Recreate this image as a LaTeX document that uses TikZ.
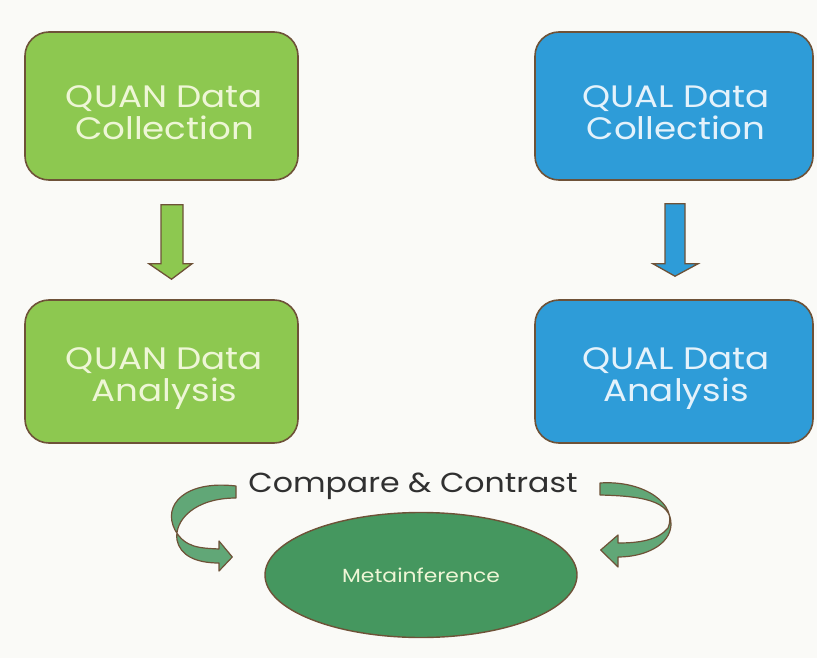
\documentclass[tikz,border=0pt]{standalone}
\usepackage{fontspec}
\setmainfont{Poppins}
\newfontfamily\widefont[FakeStretch=1.15]{Poppins}
\usetikzlibrary{shapes.geometric,calc}
\definecolor{bg}{HTML}{FAFAF7}
\definecolor{quangreen}{HTML}{8DC850}
\definecolor{qualblue}{HTML}{2E9CD8}
\definecolor{metagreen}{HTML}{45975F}
\definecolor{rim}{HTML}{6E5238}
\definecolor{greentext}{HTML}{EEF6D6}
\definecolor{bluetext}{HTML}{E4F2FB}
\definecolor{captext}{HTML}{303030}
\tikzset{
  box/.style={draw=rim, line width=1.6pt, rounded corners=24pt, inner sep=0pt},
  boxtext/.style={align=center, inner sep=0pt, font=\widefont\fontsize{31}{32}\selectfont},
  quanbox/.style={box, fill=quangreen},
  qualbox/.style={box, fill=qualblue},
  blockarrow/.style={draw=rim, line width=1.3pt, line join=miter},
  ribbon/.style={draw=rim, line width=1.2pt, fill=metagreen!85!white, line join=round},
}
\begin{document}
\begin{tikzpicture}[x=1pt,y=-1pt]
\fill[bg] (0,0) rectangle (817,658);
\useasboundingbox (0,0) rectangle (817,658);

\node[quanbox, minimum width=273pt, minimum height=148pt] (qc) at (161.5,106) {};
\node[qualbox, minimum width=278pt, minimum height=148pt] (lc) at (674,106) {};
\node[quanbox, minimum width=273pt, minimum height=143pt] (qa) at (161.5,371.5) {};
\node[qualbox, minimum width=278pt, minimum height=143pt] (la) at (674,371.5) {};
\node[boxtext, text=greentext] (qct) at ($(qc.center)+(3,7)$) {QUAN Data\\Collection};
\node[boxtext, text=bluetext] (lct) at ($(lc.center)+(2,7)$) {QUAL Data\\Collection};
\node[boxtext, text=greentext] (qat) at ($(qa.center)+(3,7)$) {QUAN Data\\Analysis};
\node[boxtext, text=bluetext] (lat) at ($(la.center)+(2,7)$) {QUAL Data\\Analysis};

% block arrows between collection and analysis
\draw[blockarrow, fill=quangreen]
  ($(qc.south)+(-0.5,24)$) -- ($(qc.south)+(21.5,24)$) -- ($(qc.south)+(21.5,83)$)
  -- ($(qc.south)+(30.5,83)$) -- ($(qa.north)+(10,-20)$) -- ($(qc.south)+(-12.5,83)$)
  -- ($(qc.south)+(-0.5,83)$) -- cycle;
\draw[blockarrow, fill=qualblue]
  ($(lc.south)+(-9,23)$) -- ($(lc.south)+(11,23)$) -- ($(lc.south)+(11,83)$)
  -- ($(lc.south)+(24,83)$) -- ($(la.north)+(1,-23)$) -- ($(lc.south)+(-21,83)$)
  -- ($(lc.south)+(-9,83)$) -- cycle;

% compare & contrast
\node[font=\widefont\fontsize{27.5}{30}\selectfont, text=captext, inner sep=0pt] (cc) at (413,486) {Compare \& Contrast};
\node[ellipse, draw=rim, line width=1.4pt, fill=metagreen, text=greentext,
      minimum width=312pt, minimum height=125pt, inner sep=0pt,
      font=\widefont\fontsize{19}{21}\selectfont] (meta) at (421,575) {Metainference};

\coordinate (ls) at (236,492);
\coordinate (rs) at (600,489);

% left curved ribbon arrow
\draw[ribbon]
  ($(ls)+(0,-6)$) .. controls (185,480) and (162,505) .. (175,530)
  .. controls (185,548) and (200,548) .. (219,549)
  -- (219,541) -- ($(meta.west)+(-32,-18)$) -- (219,571)
  -- (219,563)
  .. controls (195,563) and (180,555) .. (177,540)
  .. controls (174,520) and (195,498) .. ($(ls)+(0,6)$) -- cycle;
% right curved ribbon arrow
\draw[ribbon]
  ($(rs)+(0,-6)$) .. controls (645,480) and (678,505) .. (668,528)
  .. controls (658,540) and (640,543) .. (618,543)
  -- (618,535) -- ($(meta.east)+(23,-25)$) -- (618,567)
  -- (618,557)
  .. controls (645,557) and (670,545) .. (671,525)
  .. controls (672,500) and (640,496) .. ($(rs)+(0,6)$) -- cycle;
\end{tikzpicture}
\end{document}
